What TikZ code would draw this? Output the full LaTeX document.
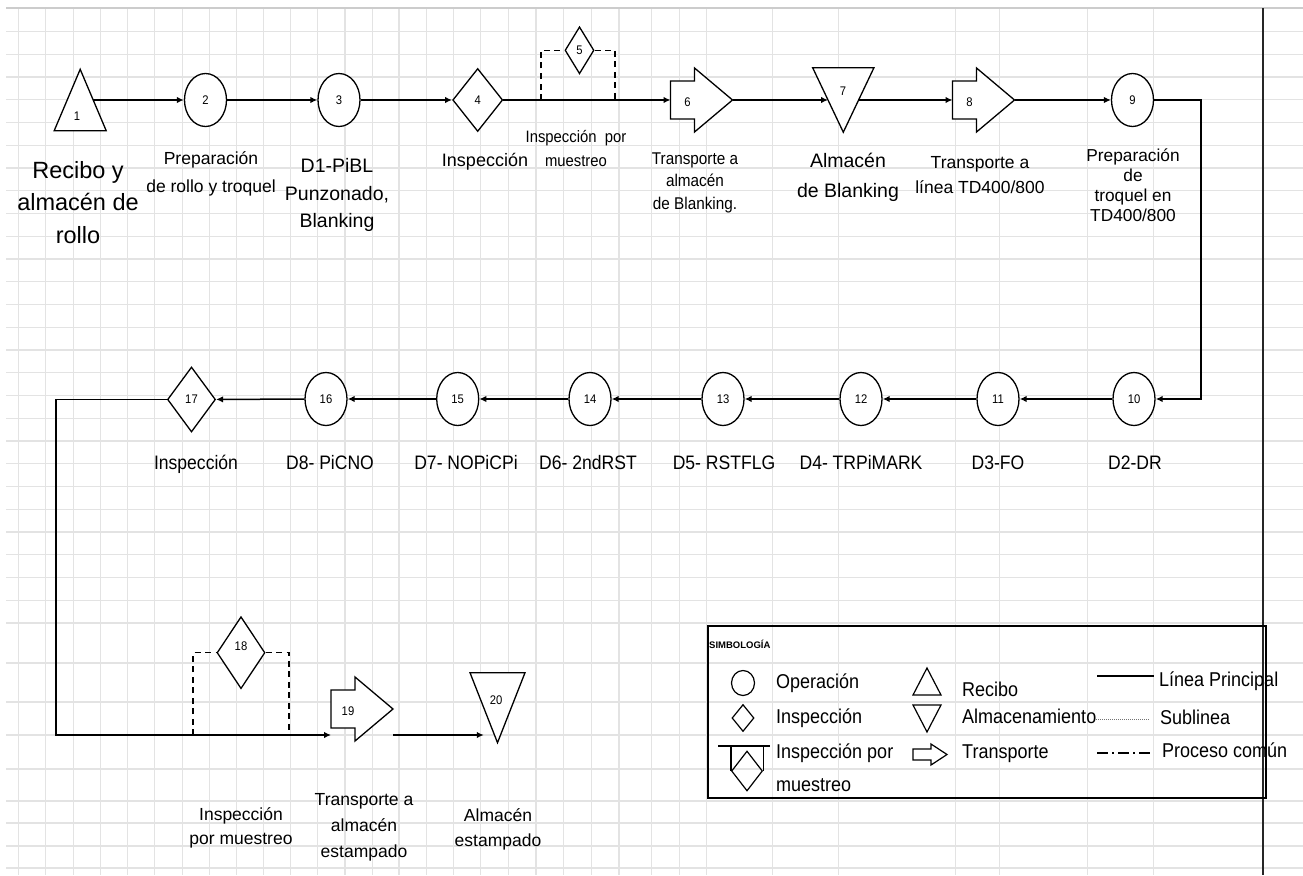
\documentclass[tikz,border=0pt]{standalone}
\usepackage{fontspec}
\setmainfont{Liberation Sans}
\newfontfamily\narrowsans[FakeStretch=0.9]{Liberation Sans}
\usetikzlibrary{shapes.geometric,arrows.meta,calc}
\newcommand\sz[2]{\fontsize{#1}{#2}\selectfont}

\begin{document}
\begin{tikzpicture}[x=1pt,y=-1pt,
  gridline/.style={draw=black!11, line width=1.3pt},
  shp/.style={draw=black, line width=1.3pt, fill=white},
  num/.style={font=\narrowsans\sz{12.5}{12.5}, inner sep=0pt},
  opc/.style={ellipse, shp, minimum width=42pt, minimum height=53pt, inner sep=0pt, num},
  insp/.style={diamond, shp, inner sep=0pt, num},
  flowline/.style={line width=1.5pt, -{Latex[length=7pt,width=6.5pt]}},
  sampleline/.style={line width=1.4pt, dash pattern=on 6pt off 4.5pt},
  lbl/.style={align=center, inner sep=0pt},
  rowtwo/.style={anchor=base, inner sep=0pt, font=\narrowsans\sz{19.5}{19.5}},
  lgtxt/.style={anchor=west, inner sep=0pt, font=\narrowsans\sz{20}{20}, text height=0.72em, text depth=0pt},
  pics/transport/.style={code={
    \draw[shp] (0,-19) -- (24,-19) -- (24,-32) -- (62,0) -- (24,32) -- (24,19) -- (0,19) -- cycle;
    \coordinate (-in) at (0,0);
    \coordinate (-tip) at (62,0);
    \coordinate (-lowin) at (0,26);
    \coordinate (-lowout) at (62,26);
    \node[num] at (17,2) {#1};
  }},
  pics/storage/.style 2 args={code={
    \draw[shp] (-#1,-#2) -- (#1,-#2) -- (0,#2) -- cycle;
    \coordinate (-w) at ({-#1/2},0);
    \coordinate (-e) at ({#1/2},0);
  }},
  pics/receipt/.style 2 args={code={
    \draw[shp] (0,-#2) -- (#1,#2) -- (-#1,#2) -- cycle;
    \coordinate (-e) at ({#1/2},0);
  }}
]
\useasboundingbox (0,0) rectangle (1303,875);
\fill[white] (0,0) rectangle (1303,875);

% spreadsheet grid
\foreach \gx in {18.3,45.7,73.3,100.7,127.7,154.3,182.3,209.3,236.7,263.3,290.7,317.7,
  345,372.3,399,426.7,453.3,480.7,508.3,536,563.3,591.7,619,651.7,679.3,706.7,772.7,
  838.3,955.7,999.3,1087.7,1153.3}
  \draw[gridline] (\gx,8.3) -- (\gx,875);
\foreach \k in {0,...,26}
  \draw[gridline] ({6},{31.5+22.75*\k}) -- ({1303},{31.5+22.75*\k});
\foreach \gy in {663,702,735,769,801,823,846,868}
  \draw[gridline] (6,\gy) -- (1303,\gy);
\draw[draw=black!20, line width=1.6pt] (6,8.3) -- (1303,8.3);
\draw[draw=black!85, line width=2.2pt] (1263.3,8.3) -- (1263.3,875);

% ---------- row 1 ----------
\pic (n1) at (80.2,100) {receipt={26}{30.7}};
\node[num] at (77,116) {1};
\node[opc] (n2) at (205.5,100) {2};
\node[opc] (n3) at (339,100) {3};
\node[insp, minimum width=50pt, minimum height=63pt] (n4) at (477.7,100) {4};
\node[insp, minimum width=29pt, minimum height=47pt] (n5) at (579.5,50.3) {5};
\pic (t6) at (670.5,100) {transport=6};
\pic (n7) at (843.3,100) {storage={30.6}{32.2}};
\node[num] at (843,91) {7};
\pic (t8) at (952.5,100) {transport=8};
\node[opc] (n9) at (1132.5,100) {9};

\coordinate (s5a) at (541,100);
\coordinate (s5b) at (615,100);
\draw[sampleline] (s5a) |- (n5.west);
\draw[sampleline] (n5.east) -| (s5b);

\draw[flowline] (n1-e) -- (n2);
\draw[flowline] (n2) -- (n3);
\draw[flowline] (n3) -- (n4);
\draw[flowline] (n4) -- (t6-in);
\draw[flowline] (t6-tip) -- (n7-w);
\draw[flowline] (n7-e) -- (t8-in);
\draw[flowline] (t8-tip) -- (n9);

% ---------- row 2 ----------
\node[opc] (n10) at (1134,399) {10};
\node[opc] (n11) at (998,399) {11};
\node[opc] (n12) at (861,399) {12};
\node[opc] (n13) at (723,399) {13};
\node[opc] (n14) at (590,399) {14};
\node[opc] (n15) at (457.7,399) {15};
\node[opc] (n16) at (326,399) {16};
\node[insp, minimum width=48pt, minimum height=65pt] (n17) at (191.5,399.5) {17};

\coordinate (rbend) at (1201,250);
\draw[flowline] (n9.east) -| (rbend) |- (n10.east);
\draw[flowline] (n10) -- (n11);
\draw[flowline] (n11) -- (n12);
\draw[flowline] (n12) -- (n13);
\draw[flowline] (n13) -- (n14);
\draw[flowline] (n14) -- (n15);
\draw[flowline] (n15) -- (n16);
\draw[flowline] (n16) -- (n17);

% ---------- row 3 ----------
\node[insp, minimum width=48pt, minimum height=72pt] (n18) at (241,652.7) {};
\node[num] at (241,646.5) {18};
\pic (t19) at (331,709) {transport=19};
\pic (n20) at (497.5,707.7) {storage={27.5}{35}};
\node[num] at (496,700) {20};

\coordinate (s18a) at (193,735);
\coordinate (s18b) at (289,735);
\draw[sampleline] (s18a) |- (n18.west);
\draw[sampleline] (n18.east) -| (s18b);

\coordinate (lbend) at (56,560);
\draw[flowline] (n17.west) -| (lbend) |- (t19-lowin);
\draw[flowline] (t19-lowout) -- (n20-w |- t19-lowout);

% ---------- labels ----------
\node[lbl, font=\sz{23.5}{32.5}] (lb1) at (78,202.5) {Recibo y\\almacén de\\rollo};
\node[lbl, font=\sz{17.5}{28}] (lb2) at (211,174) {Preparación\\de rollo y troquel};
\node[lbl, font=\sz{19.5}{27.5}] (lb3) at (337,195) {D1-PiBL\\Punzonado,\\Blanking};
\node[lbl, font=\sz{18}{18}] (lb4) at (485,162) {Inspección};
\node[lbl, font=\narrowsans\sz{16.5}{24}] (lb5) at (576,149) {Inspección\ \ por\\muestreo};
\node[lbl, font=\narrowsans\sz{17}{22.5}] (lb6) at (695,182.5) {Transporte a\\almacén\\de Blanking.};
\node[lbl, font=\sz{19.5}{30}] (lb7) at (848,177) {Almacén\\de Blanking};
\node[lbl, font=\sz{17.5}{25}] (lb8) at (980,175.5) {Transporte a\\línea TD400/800};
\node[lbl, font=\sz{17.3}{20}] (lb9) at (1133,185) {Preparación\\de\\troquel en\\TD400/800};

\node[rowtwo] (lb17) at (196,469) {Inspección};
\node[rowtwo] (lb16) at (330,469) {D8- PiCNO};
\node[rowtwo] (lb15) at (466,469) {D7- NOPiCPi};
\node[rowtwo] (lb14) at (588,469) {D6- 2ndRST};
\node[rowtwo] (lb13) at (724,469) {D5- RSTFLG};
\node[rowtwo] (lb12) at (861,469) {D4- TRPiMARK};
\node[rowtwo] (lb11) at (998,469) {D3-FO};
\node[rowtwo] (lb10) at (1135,469) {D2-DR};

\node[lbl, font=\sz{17.5}{24}] (lb18) at (241,828) {Inspección\\por muestreo};
\node[lbl, font=\sz{17.5}{26}] (lb19) at (364,827) {Transporte a\\almacén\\estampado};
\node[lbl, font=\sz{17.5}{25}] (lb20) at (498,829) {Almacén\\estampado};

% ---------- legend ----------
\node[draw=black, line width=2pt, anchor=north west, minimum width=558.5pt,
  minimum height=172pt, inner sep=0pt] (legend) at (706.5,625) {};
\node[anchor=west, inner sep=0pt, font=\bfseries\sz{9.5}{9.5}] (lgtitle) at (709,644) {SIMBOLOGÍA};

\node[ellipse, draw=black, line width=1.2pt, minimum width=23pt, minimum height=25pt, inner sep=0pt] (lgop) at (743,683) {};
\node[diamond, draw=black, line width=1.2pt, minimum width=22pt, minimum height=27pt, inner sep=0pt] (lgin) at (743,718) {};
\node[diamond, draw=black, line width=1.2pt, minimum width=31pt, minimum height=40pt, inner sep=0pt] (lgsm) at (747,771) {};
\coordinate (lgbarl) at (718,746);
\coordinate (lgbarr) at (770,746);
\draw[line width=1.3pt] (lgbarl) -- (lgbarr);
\draw[line width=1.2pt] (lgsm.west |- lgbarl) -- (lgsm.west);
\draw[line width=1.2pt] (lgsm.east |- lgbarl) -- (lgsm.east);

\draw[line width=1.2pt] (927,668) -- (941,695) -- (913,695) -- cycle;
\draw[line width=1.2pt] (913,705) -- (941,705) -- (927,732) -- cycle;
\draw[line width=1.2pt] (913,749) -- (931,749) -- (931,744) -- (947,754.5) -- (931,765) -- (931,760) -- (913,760) -- cycle;

\coordinate (lgl1a) at (1097,676);  \coordinate (lgl1b) at (1154,676);
\coordinate (lgl2a) at (1094,719);  \coordinate (lgl2b) at (1150,719);
\coordinate (lgl3a) at (1097,753);  \coordinate (lgl3b) at (1150,753);
\draw[line width=1.5pt] (lgl1a) -- (lgl1b);
\draw[draw=black!55, line width=0.9pt, dash pattern=on 1pt off 1pt] (lgl2a) -- (lgl2b);
\draw[line width=1.3pt, dash pattern=on 11pt off 4pt on 2pt off 4pt] (lgl3a) -- (lgl3b);

\node[lgtxt] (lgt1) at (776,685) {Operación};
\node[lgtxt] (lgt2) at (776,720) {Inspección};
\node[lgtxt] (lgt3) at (776,755) {Inspección por};
\node[lgtxt] (lgt4) at (776,788) {muestreo};
\node[lgtxt] (lgt5) at (962,693) {Recibo};
\node[lgtxt] (lgt6) at (962,720) {Almacenamiento};
\node[lgtxt] (lgt7) at (962,755) {Transporte};
\node[lgtxt] (lgt8) at (1159,683) {Línea Principal};
\node[lgtxt] (lgt9) at (1160,721) {Sublinea};
\node[lgtxt] (lgt10) at (1162,754) {Proceso común};
\end{tikzpicture}
\end{document}
